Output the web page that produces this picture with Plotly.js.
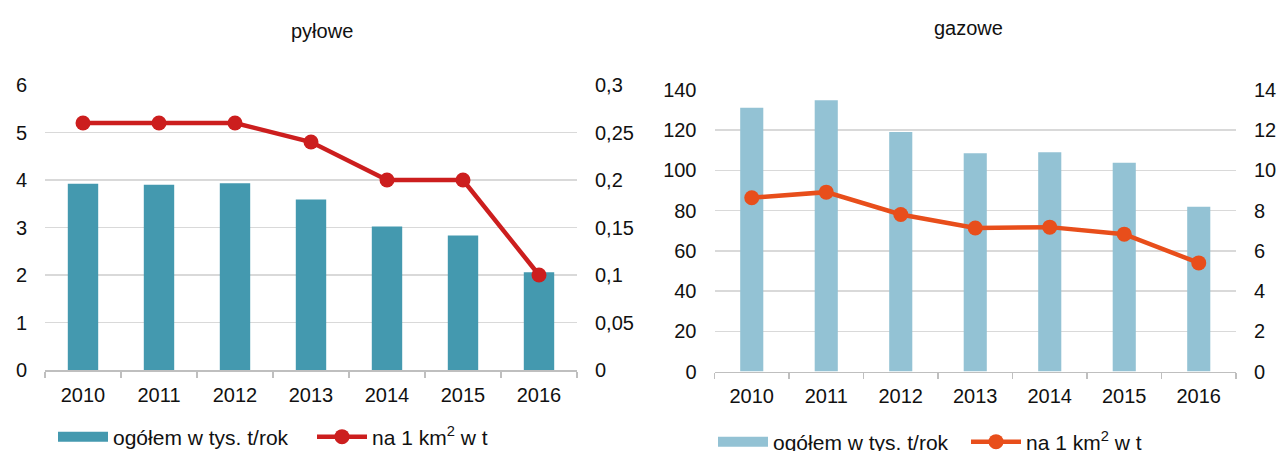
<!DOCTYPE html>
<html>
<head>
<meta charset="utf-8">
<script src="https://cdn.plot.ly/plotly-3.0.1.min.js"></script>
<style>html,body{margin:0;padding:0;background:#fff;}#chart{width:1282px;height:451px;}</style>
</head>
<body>
<div id="chart"></div>
<script>
const years = ['2010', '2011', '2012', '2013', '2014', '2015', '2016'];
// pyłowe
const dustTotal = [3.92, 3.90, 3.93, 3.59, 3.02, 2.83, 2.06];
const dustPerKm2 = [0.26, 0.26, 0.26, 0.24, 0.20, 0.20, 0.10];
// gazowe
const gasTotal = [131.2, 134.9, 119.1, 108.6, 109.1, 103.8, 81.9];
const gasPerKm2 = [8.64, 8.92, 7.81, 7.14, 7.18, 6.83, 5.40];

const nameTotal = 'ogółem w tys. t/rok';
const namePerKm2 = 'na 1 km<sup>2</sup> w t';

const FONT = '"Liberation Sans", Arial, sans-serif';
const TXT = '#111111';
const GRID = '#d9d9d9';
const AXL = '#bfbfbf';
const teal = '#4499af', red = '#cc1e1e', lightBlue = '#93c2d4', orange = '#e84e1b';

const traces = [
  {type: 'bar', x: years, y: dustTotal, xaxis: 'x', yaxis: 'y', width: 0.4,
   marker: {color: teal}, showlegend: false, hoverinfo: 'skip'},
  {type: 'scatter', mode: 'lines', x: [null], y: [null], xaxis: 'x', yaxis: 'y',
   name: nameTotal, line: {color: teal, width: 13}, legend: 'legend'},
  {type: 'scatter', mode: 'lines+markers', x: years, y: dustPerKm2, xaxis: 'x', yaxis: 'y2',
   name: namePerKm2, line: {color: red, width: 4.5}, marker: {color: red, size: 15}, legend: 'legend'},

  {type: 'bar', x: years, y: gasTotal, xaxis: 'x2', yaxis: 'y3', width: 0.31,
   marker: {color: lightBlue}, showlegend: false, hoverinfo: 'skip'},
  {type: 'scatter', mode: 'lines', x: [null], y: [null], xaxis: 'x2', yaxis: 'y3',
   name: nameTotal, line: {color: lightBlue, width: 13}, legend: 'legend2'},
  {type: 'scatter', mode: 'lines+markers', x: years, y: gasPerKm2, xaxis: 'x2', yaxis: 'y4',
   name: namePerKm2, line: {color: orange, width: 4.5}, marker: {color: orange, size: 15}, legend: 'legend2'}
];

const W = 1282, H = 451;
const px = v => v / W, py = v => 1 - v / H;

const xBase = {type: 'category', showline: true, linecolor: AXL, linewidth: 1.5,
  ticks: 'outside', tickson: 'boundaries', ticklen: 6, tickcolor: AXL, tickwidth: 1.5,
  showgrid: false, zeroline: false, tickfont: {size: 20, color: TXT}, ticklabelstandoff: 6,
  automargin: false, fixedrange: true};
const yBase = {showline: false, ticks: '', zeroline: false, gridcolor: GRID, gridwidth: 1.5,
  tickfont: {size: 20, color: TXT}, ticklabelstandoff: 17, automargin: false, fixedrange: true};

const layout = {
  width: W, height: H,
  margin: {l: 0, r: 0, t: 0, b: 0, autoexpand: false},
  paper_bgcolor: '#fff', plot_bgcolor: '#fff',
  font: {family: FONT, size: 20, color: TXT},
  separators: ', ',
  xaxis: Object.assign({}, xBase, {domain: [px(45), px(577)], anchor: 'y'}),
  yaxis: Object.assign({}, yBase, {domain: [py(370), py(85)], range: [0, 6], dtick: 1, anchor: 'x'}),
  yaxis2: Object.assign({}, yBase, {overlaying: 'y', side: 'right', anchor: 'x', range: [0, 0.3], dtick: 0.05, showgrid: false}),
  xaxis2: Object.assign({}, xBase, {domain: [px(714.5), px(1236)], anchor: 'y3'}),
  yaxis3: Object.assign({}, yBase, {domain: [py(371.5), py(90)], range: [0, 140], dtick: 20, anchor: 'x2'}),
  yaxis4: Object.assign({}, yBase, {overlaying: 'y3', side: 'right', anchor: 'x2', range: [0, 14], dtick: 2, showgrid: false}),
  legend: {orientation: 'h', xref: 'container', yref: 'container', x: px(53), y: py(437),
    xanchor: 'left', yanchor: 'middle', itemwidth: 50, entrywidth: 194,
    font: {size: 21, color: TXT}, bgcolor: 'rgba(0,0,0,0)', tracegroupgap: 0},
  legend2: {orientation: 'h', xref: 'container', yref: 'container', x: px(713), y: py(442),
    xanchor: 'left', yanchor: 'middle', itemwidth: 50, entrywidth: 188,
    font: {size: 21, color: TXT}, bgcolor: 'rgba(0,0,0,0)', tracegroupgap: 0},
  annotations: [
    {text: 'pyłowe', xref: 'paper', yref: 'paper', x: px(322), y: py(31), xanchor: 'center', yanchor: 'middle',
     showarrow: false, font: {size: 20, color: TXT}},
    {text: 'gazowe', xref: 'paper', yref: 'paper', x: px(968), y: py(28), xanchor: 'center', yanchor: 'middle',
     showarrow: false, font: {size: 20, color: TXT}}
  ]
};

Plotly.newPlot('chart', traces, layout, {displayModeBar: false, staticPlot: true});
</script>
</body>
</html>
